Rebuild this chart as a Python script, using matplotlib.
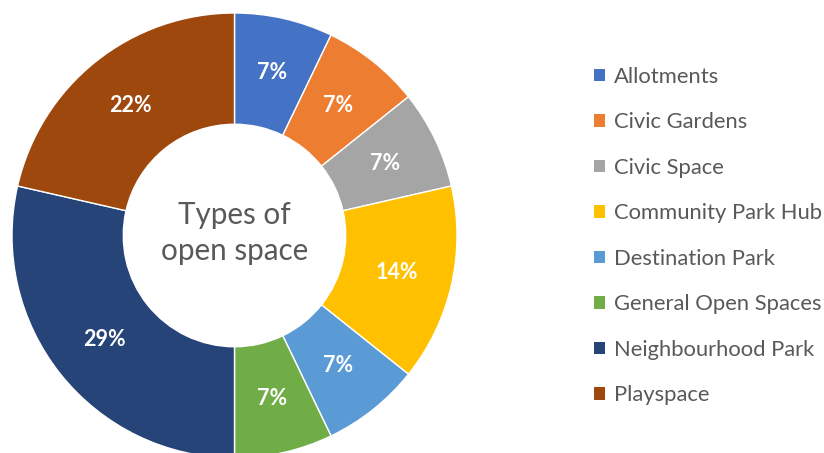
import matplotlib
matplotlib.use('Agg')
from matplotlib import pyplot as plt
from matplotlib.patches import Patch


# chart data
categories = ['Allotments', 'Civic Gardens', 'Civic Space', 'Community Park Hub',
              'Destination Park', 'General Open Spaces', 'Neighbourhood Park', 'Playspace']
counts = [1, 1, 1, 2, 1, 1, 4, 3]
pct_labels = ['7%', '7%', '7%', '14%', '7%', '7%', '29%', '22%']
colours = ['#4472C4', '#ED7D31', '#A5A5A5', '#FFC000',
           '#5B9BD5', '#70AD47', '#264478', '#9E480E']
centre_title = 'Types of\nopen space'


def main():
    plt.rcParams['font.family'] = ['Lato', 'DejaVu Sans']
    fig = plt.figure(figsize=(8.24, 4.53), dpi=100)

    # pie axes placed so the ring is 445px wide, centred at (234.5, 235.5) from top-left
    W, H = 824, 453
    r_px = 222.5
    cx, cy = 234.5, H - 235.5
    ax = fig.add_axes([(cx - r_px) / W, (cy - r_px) / H, 2 * r_px / W, 2 * r_px / H])

    wedges, texts = ax.pie(
        counts, colors=colours, startangle=90, counterclock=False,
        radius=1.0, labels=pct_labels, labeldistance=0.75,
        wedgeprops=dict(width=0.5, edgecolor='white', linewidth=1),
        textprops=dict(color='white', fontsize=15.5, fontweight='bold'))
    for t in texts:
        t.set_ha('center')
        t.set_va('center')
    ax.set_xlim(-1, 1)
    ax.set_ylim(-1, 1)
    ax.set_aspect('equal')
    ax.axis('off')

    ax.text(0, 0.01, centre_title, ha='center', va='center', fontsize=21.3,
            color='#595959', linespacing=1.35)

    handles = [Patch(facecolor=c, edgecolor='none') for c in colours]
    leg = fig.legend(handles, categories, loc='center left',
                     bbox_to_anchor=(583 / W, 1 - 236 / H), frameon=False,
                     fontsize=15.8, labelspacing=1.16, handlelength=0.5,
                     handleheight=0.5, handletextpad=0.42, borderpad=0)
    for t in leg.get_texts():
        t.set_color('#595959')

    fig.savefig('out.png', dpi=100)


if __name__ == '__main__':
    main()
